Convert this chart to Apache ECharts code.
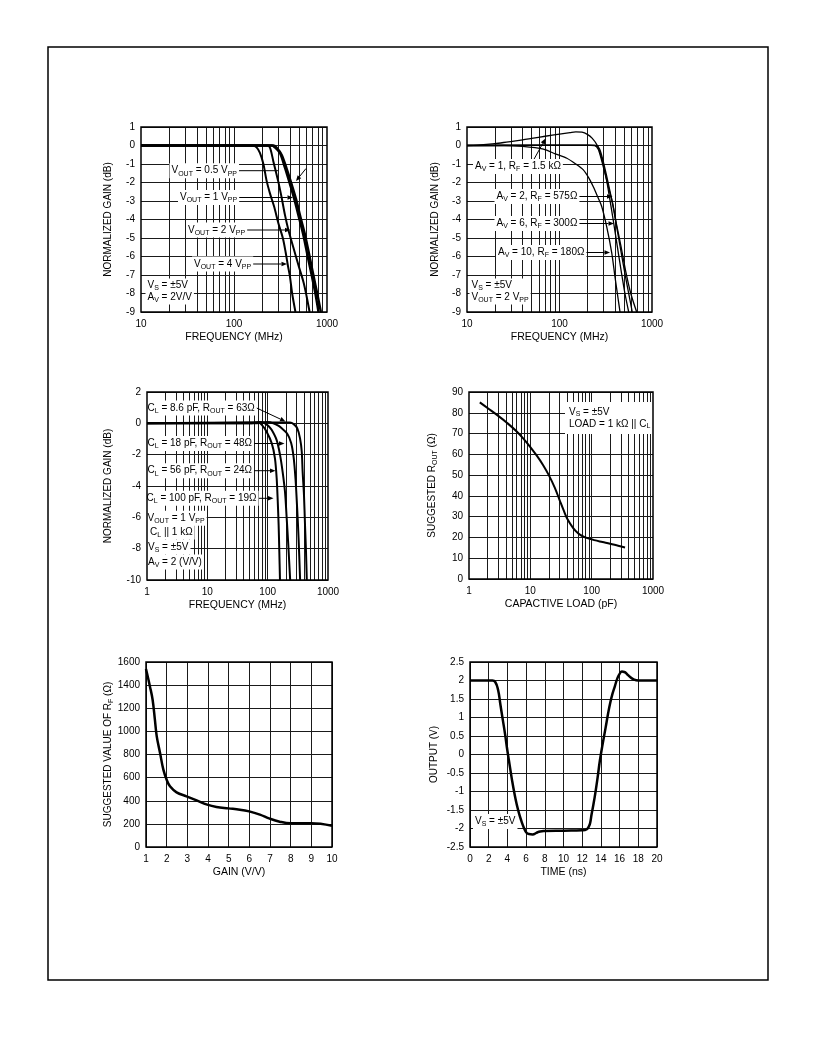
<!DOCTYPE html>
<html><head><meta charset="utf-8">
<script src="https://cdn.jsdelivr.net/npm/echarts/dist/echarts.min.js"></script>
<style>html,body{margin:0;padding:0;background:#fff}#c{width:816px;height:1056px}</style>
</head><body><div id="c"></div>
<script>
// ---------------- DATA ----------------
// Chart 1: normalized gain vs frequency (MHz), AV = 2
const c1Vout05 = [[10,0],[265,0],[285,-0.1],[325,-0.5],[368,-1.25],[417,-2.1],[465,-2.9],[520,-3.9],[585,-4.9],[650,-6],[720,-7.1],[785,-8],[860,-9]];
const c1Vout1  = [[10,0],[255,0],[275,-0.1],[312,-0.4],[353,-1.2],[400,-2.1],[445,-2.9],[500,-3.9],[560,-4.9],[620,-6],[690,-7.1],[750,-8],[810,-9]];
const c1Vout2  = [[10,0],[230,0],[245,-0.15],[265,-0.86],[299,-1.94],[326,-2.84],[353,-3.75],[384,-4.55],[434,-5.5],[495,-6.5],[560,-7.4],[604,-8.16],[650,-9]];
const c1Vout4  = [[10,0],[160,0],[175,-0.1],[190,-0.4],[207,-1],[224,-1.9],[244,-2.6],[270,-3.3],[300,-4.2],[335,-5],[360,-5.8],[380,-6.5],[400,-7.1],[422,-8],[458,-9]];
// Chart 2: normalized gain vs frequency (MHz), VOUT = 2 VPP
const c2Av1  = [[10,0],[13,0.02],[20,0.1],[28,0.2],[40,0.3],[50,0.38],[70,0.5],[100,0.62],[130,0.7],[150,0.74],[175,0.72],[200,0.6],[225,0.4],[253,0.05],[275,-0.4],[300,-1.1],[325,-1.95],[350,-2.9],[380,-4],[420,-5.4],[465,-6.8],[510,-8],[560,-9]];
const c2Av2  = [[10,0],[200,0.02],[240,0],[262,-0.2],[285,-0.8],[310,-1.5],[340,-2.3],[370,-3.0],[405,-4.1],[450,-5.4],[500,-6.7],[555,-7.9],[612,-9]];
const c2Av6  = [[10,0],[200,0.02],[250,0],[272,-0.2],[295,-0.8],[322,-1.6],[352,-2.5],[385,-3.4],[415,-4.3],[460,-5.4],[520,-6.8],[590,-8],[683,-9]];
const c2Av10 = [[10,0],[25,0],[40,-0.05],[67,-0.2],[90,-0.45],[120,-0.69],[150,-1],[181,-1.32],[210,-1.8],[232,-2.23],[260,-2.8],[286,-3.3],[324,-4.4],[367,-5.8],[398,-7.1],[432,-8.35],[451,-9]];
// Chart 3: normalized gain vs frequency (MHz), capacitive loads
const c3Cl86  = [[1,0],[80,0.05],[235,0.06],[270,-0.05],[310,-0.32],[344,-0.96],[367,-1.8],[380,-3.1],[400,-4.6],[416,-6.5],[432,-8.2],[445,-10]];
const c3Cl18  = [[1,0],[60,0],[100,0.08],[124,0],[150,-0.15],[171,-0.32],[210,-0.65],[245,-1.25],[270,-2.2],[290,-3.6],[308,-5.4],[325,-7.3],[345,-10]];
const c3Cl56  = [[1,0],[50,0],[75,0.08],[90,0],[105,-0.2],[117,-0.43],[141,-1.07],[160,-2],[177,-3.1],[194,-4.4],[207,-6.1],[220,-7.8],[236,-10]];
const c3Cl100 = [[1,0],[50,0.05],[70,0.05],[80,-0.1],[96,-0.54],[117,-1.28],[132,-2.23],[141,-3.5],[147,-5],[152,-6.5],[156,-8.2],[160,-10]];
// Chart 4: suggested ROUT (ohm) vs capacitive load (pF)
const c4Rout = [[1.5,85],[2,82.3],[3,78.5],[4,75.6],[6,71],[8,67],[10,63.5],[13,59],[16,55],[20,50],[25,44],[30,38],[35,33],[40,29],[50,24.5],[60,22],[70,20.7],[85,19.7],[110,18.7],[150,17.8],[200,17],[270,16],[350,15.2]];
// Chart 5: suggested RF (ohm) vs gain (V/V)
const c5Rf = [[1,1539],[1.19,1389],[1.32,1274],[1.43,1101],[1.52,957],[1.68,813],[1.84,669],[2,582],[2.16,525],[2.48,473],[2.96,438],[3.45,403],[3.96,366],[4.41,346],[4.99,334],[5.54,323],[5.99,308],[6.51,280],[6.99,245],[7.47,219],[7.99,205],[8.99,205],[10,184]];
// Chart 6: output (V) vs time (ns)
const c6Out = [[0,2],[2.4,2],[2.7,1.96],[3,1.75],[3.25,1.35],[3.5,0.95],[3.75,0.55],[4,0.1],[4.25,-0.3],[4.5,-0.7],[4.75,-1.05],[5,-1.35],[5.25,-1.6],[5.5,-1.8],[5.75,-1.97],[6,-2.1],[6.3,-2.15],[6.7,-2.16],[7.1,-2.12],[7.5,-2.08],[8,-2.07],[10,-2.06],[12,-2.05],[12.5,-2.02],[12.7,-1.95],[12.85,-1.85],[13,-1.62],[13.2,-1.35],[13.4,-1.05],[13.65,-0.62],[13.9,-0.15],[14.2,0.3],[14.5,0.72],[14.75,1.08],[15,1.4],[15.25,1.65],[15.5,1.85],[15.75,2.05],[16,2.18],[16.25,2.24],[16.5,2.23],[16.8,2.17],[17.1,2.1],[17.5,2.03],[18,2],[20,2]];

// ---------------- STYLE / LAYOUT ----------------
const FONT = '"Liberation Sans", Arial, Helvetica, sans-serif';
const SUB = {fontSize:7, fontFamily:FONT, lineHeight:9, verticalAlign:'bottom', fill:'#000', color:'#000'};
const grids = [
  {left:141, top:127, width:186, height:185},
  {left:467, top:127, width:185, height:185},
  {left:147, top:392, width:181, height:188},
  {left:469, top:392, width:184, height:187},
  {left:146, top:662, width:186, height:185},
  {left:470, top:662, width:187, height:185}
].map(g => Object.assign(g, {show:true, borderColor:'#000', borderWidth:1.5, backgroundColor:'transparent', z:8, containLabel:false, outerBoundsMode:'none'}));

function xAx(i, o) {
  return Object.assign({
    gridIndex:i, nameLocation:'middle', nameGap:20, nameMoveOverlap:false,
    nameTextStyle:{fontSize:10.5, fontFamily:FONT, color:'#000'},
    axisLine:{show:false}, axisTick:{show:false},
    axisLabel:{fontSize:10, fontFamily:FONT, color:'#000', margin:7, showMinLabel:true, showMaxLabel:true},
    splitLine:{show:false}
  }, o);
}
function yAx(i, o) {
  return Object.assign({
    gridIndex:i, type:'value', nameLocation:'middle', nameRotate:90, nameMoveOverlap:false,
    nameTextStyle:{fontSize:10, fontFamily:FONT, color:'#000', lineHeight:13, rich:{s:SUB}},
    axisLine:{show:false}, axisTick:{show:false},
    axisLabel:{fontSize:10, fontFamily:FONT, color:'#000', margin:6, showMinLabel:true, showMaxLabel:true, formatter:v=>String(+v.toFixed(2))},
    splitLine:{show:true, lineStyle:{color:'#1a1a1a', width:1}}
  }, o);
}
const logFmt = v => String(Math.round(v));
const xAxes = [
  xAx(0,{type:'log', logBase:10, min:10, max:1000, name:'FREQUENCY (MHz)', axisLabel:{fontSize:10, fontFamily:FONT, color:'#000', margin:7, formatter:logFmt}}),
  xAx(1,{type:'log', logBase:10, min:10, max:1000, name:'FREQUENCY (MHz)', axisLabel:{fontSize:10, fontFamily:FONT, color:'#000', margin:7, formatter:logFmt}}),
  xAx(2,{type:'log', logBase:10, min:1, max:1000, name:'FREQUENCY (MHz)', axisLabel:{fontSize:10, fontFamily:FONT, color:'#000', margin:7, formatter:logFmt}}),
  xAx(3,{type:'log', logBase:10, min:1, max:1000, name:'CAPACTIVE LOAD (pF)', axisLabel:{fontSize:10, fontFamily:FONT, color:'#000', margin:7, formatter:logFmt}}),
  xAx(4,{type:'value', min:1, max:10, interval:1, name:'GAIN (V/V)', axisLabel:{fontSize:10, fontFamily:FONT, color:'#000', margin:7, formatter:v=>String(v)}, splitLine:{show:true, lineStyle:{color:'#1a1a1a', width:1}}}),
  xAx(5,{type:'value', min:0, max:20, interval:2, name:'TIME (ns)', axisLabel:{fontSize:10, fontFamily:FONT, color:'#000', margin:7, formatter:v=>String(v)}, splitLine:{show:true, lineStyle:{color:'#1a1a1a', width:1}}})
];
const yAxes = [
  yAx(0,{min:-9, max:1, interval:1, name:'NORMALIZED GAIN (dB)', nameGap:26}),
  yAx(1,{min:-9, max:1, interval:1, name:'NORMALIZED GAIN (dB)', nameGap:25}),
  yAx(2,{min:-10, max:2, interval:2, name:'NORMALIZED GAIN (dB)', nameGap:32}),
  yAx(3,{min:0, max:90, interval:10, name:'SUGGESTED R{s|OUT} (Ω)', nameGap:30}),
  yAx(4,{min:0, max:1600, interval:200, name:'SUGGESTED VALUE OF R{s|F} (Ω)', nameGap:31}),
  yAx(5,{min:-2.5, max:2.5, interval:0.5, name:'OUTPUT (V)', nameGap:29})
];

function logLines(lo, hi) {
  const v = [];
  for (let d = lo; d < hi; d *= 10) { if (d > lo) v.push({xAxis:d}); for (let k = 2; k <= 9; k++) v.push({xAxis:k*d}); }
  return v;
}
function gridSeries(i, lo, hi) {
  return {type:'line', xAxisIndex:i, yAxisIndex:i, data:[], silent:true, animation:false, z:1,
    markLine:{silent:true, animation:false, z:1, symbol:['none','none'], label:{show:false},
      emphasis:{disabled:true}, lineStyle:{color:'#1a1a1a', width:1, type:'solid'}, data:logLines(lo, hi)}};
}
function curve(i, data, w, sm) {
  return {type:'line', xAxisIndex:i, yAxisIndex:i, data:data, showSymbol:false, symbol:'none',
    smooth:(sm===undefined?0.3:sm),
    lineStyle:{color:'#000', width:w}, z:10, silent:true, animation:false};
}
const series = [
  gridSeries(0,10,1000), gridSeries(1,10,1000), gridSeries(2,1,1000), gridSeries(3,1,1000),
  curve(0,c1Vout05,2.4), curve(0,c1Vout1,2.4), curve(0,c1Vout2,2), curve(0,c1Vout4,2),
  curve(1,c2Av1,1.3), curve(1,c2Av2,1.3), curve(1,c2Av6,1.3), curve(1,c2Av10,1.3),
  curve(2,c3Cl86,2), curve(2,c3Cl18,2), curve(2,c3Cl56,2), curve(2,c3Cl100,2),
  curve(3,c4Rout,2,0.4),
  curve(4,c5Rf,2.5,0.4),
  curve(5,c6Out,2.5,0.5)
];

// ---------------- ANNOTATIONS ----------------
function lbl(x, y, text, extra) {
  return {type:'text', x:x-2, y:y, z:5, silent:true,
    style:Object.assign({text:text, fill:'#000', fontSize:10, fontFamily:FONT, lineHeight:13,
      align:'left', verticalAlign:'middle', backgroundColor:'#fff', padding:[1,2], rich:{s:SUB}}, extra||{})};
}
function line(x1,y1,x2,y2) {
  return {type:'line', z:4, silent:true, shape:{x1,y1,x2,y2}, style:{stroke:'#000', lineWidth:1}};
}
function arrow(x1,y1,x2,y2) {
  const dx=x2-x1, dy=y2-y1, L=Math.hypot(dx,dy), ux=dx/L, uy=dy/L, hl=5.5, hw=2.3;
  const bx=x2-ux*hl, by=y2-uy*hl;
  return [line(x1,y1,bx,by),
    {type:'polygon', z:4, silent:true, shape:{points:[[x2,y2],[bx-uy*hw,by+ux*hw],[bx+uy*hw,by-ux*hw]]}, style:{fill:'#000'}}];
}
const graphics = [
  {type:'rect', z:0, silent:true, shape:{x:48, y:47, width:720, height:933}, style:{fill:'none', stroke:'#000', lineWidth:1.5}},
  // chart 1
  lbl(171.5,170.7,'V{s|OUT} = 0.5 V{s|PP}'), line(190,170.7,278,170.7), ...arrow(306,168.5,296,181),
  lbl(180,197.5,'V{s|OUT} = 1 V{s|PP}'), ...arrow(200,197.5,293,197.5),
  lbl(188,230,'V{s|OUT} = 2 V{s|PP}'), ...arrow(210,230,290.5,230),
  lbl(194,264,'V{s|OUT} = 4 V{s|PP}'), ...arrow(215,264,287,264),
  lbl(147.5,291.5,'V{s|S} = ±5V\nA{s|V} = 2V/V', {lineHeight:12}),
  // chart 2
  lbl(475,166.5,'A{s|V} = 1, R{s|F} = 1.5 kΩ'), ...arrow(533,161,545.5,138.5),
  lbl(496.5,196.5,'A{s|V} = 2, R{s|F} = 575Ω'), ...arrow(520,196.5,612.5,196.5),
  lbl(496.5,223.5,'A{s|V} = 6, R{s|F} = 300Ω'), ...arrow(520,223.5,614,223.5),
  lbl(498,252.5,'A{s|V} = 10, R{s|F} = 180Ω'), ...arrow(520,252.5,610,252.5),
  lbl(471.5,291.5,'V{s|S} = ±5V\nV{s|OUT} = 2 V{s|PP}', {lineHeight:12}),
  // chart 3
  lbl(147.5,408,'C{s|L} = 8.6 pF, R{s|OUT} = 63Ω'), ...arrow(250,404.9,285.5,421.5),
  lbl(147.5,443.5,'C{s|L} = 18 pF, R{s|OUT} = 48Ω'), ...arrow(180,443.5,284.5,443.5),
  lbl(147.5,470.7,'C{s|L} = 56 pF, R{s|OUT} = 24Ω'), ...arrow(180,470.7,275.5,470.7),
  lbl(146.5,498.3,'C{s|L} = 100 pF, R{s|OUT} = 19Ω'), ...arrow(180,498.3,273.5,498.3),
  lbl(147.5,518.3,'V{s|OUT} = 1 V{s|PP}'),
  lbl(150,532,'C{s|L} || 1 kΩ'),
  lbl(148,547,'V{s|S} = ±5V'),
  lbl(148,562,'A{s|V} = 2 (V/V)'),
  // chart 4
  lbl(567,418,'V{s|S} = ±5V\nLOAD = 1 kΩ || C{s|L}', {lineHeight:12, padding:[4,5,4,4]}),
  // chart 6
  lbl(475,821.5,'V{s|S} = ±5V')
];

const option = {
  animation:false,
  backgroundColor:'#fff',
  textStyle:{fontFamily:FONT},
  grid:grids, xAxis:xAxes, yAxis:yAxes, series:series,
  graphic:{elements:graphics}
};
const chart = echarts.init(document.getElementById('c'), null, {renderer:'canvas', width:816, height:1056});
chart.setOption(option);
</script></body></html>
